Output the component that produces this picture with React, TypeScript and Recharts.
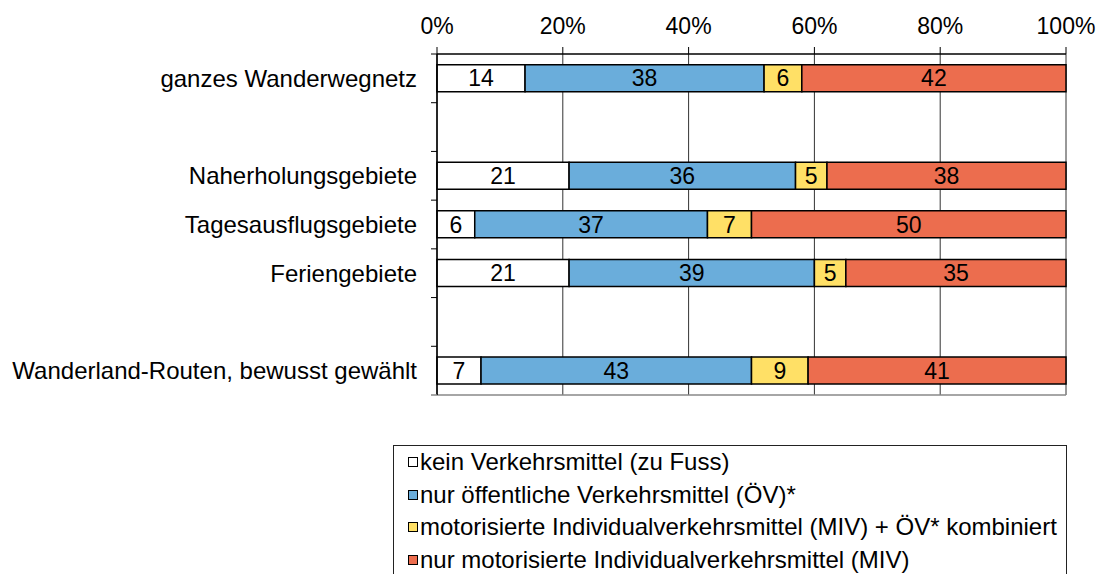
import React from 'react';
import {
  BarChart,
  Bar,
  XAxis,
  YAxis,
  CartesianGrid,
  LabelList,
  Legend,
  ReferenceLine,
} from 'recharts';

const CATEGORIES = [
  'ganzes Wanderwegnetz',
  ' ',
  'Naherholungsgebiete',
  'Tagesausflugsgebiete',
  'Feriengebiete',
  '  ',
  'Wanderland-Routen, bewusst gewählt',
];

const FUSS = [14, null, 21, 6, 21, null, 7];
const OEV = [38, null, 36, 37, 39, null, 43];
const KOMBI = [6, null, 5, 7, 5, null, 9];
const MIV = [42, null, 38, 50, 35, null, 41];

const X_TICKS = [0, 20, 40, 60, 80, 100];

const SERIES = [
  { key: 'fuss', name: 'kein Verkehrsmittel (zu Fuss)', color: '#ffffff', values: FUSS },
  { key: 'oev', name: 'nur öffentliche Verkehrsmittel (ÖV)*', color: '#6aaddb', values: OEV },
  { key: 'kombi', name: 'motorisierte Individualverkehrsmittel (MIV) + ÖV* kombiniert', color: '#ffe066', values: KOMBI },
  { key: 'miv', name: 'nur motorisierte Individualverkehrsmittel (MIV)', color: '#ec6d4e', values: MIV },
];

const data = CATEGORIES.map((cat, i) => {
  const row: Record<string, any> = { cat };
  SERIES.forEach((s) => {
    row[s.key] = s.values[i];
  });
  return row;
});

const FONT = '"Liberation Sans", Arial, sans-serif';
const W = 1098;
const H = 574;
const MARGIN = { top: 0, right: 32, bottom: 179, left: 0 };
const X_AXIS_H = 54;
const CAT_TICK_MARGIN = 20;
const HALF_BAND_FALLBACK = (H - MARGIN.top - MARGIN.bottom - X_AXIS_H) / CATEGORIES.length / 2;

const CategoryTick = (props: any) => {
  const { x, y, payload, index, visibleTicksCount } = props;
  const half = typeof payload?.offset === 'number' && payload.offset > 0 ? payload.offset : HALF_BAND_FALLBACK;
  const axisX = x + CAT_TICK_MARGIN;
  const isLast = index === visibleTicksCount - 1;
  return (
    <g>
      <text x={x} y={y} dy="0.355em" textAnchor="end" fontSize={24} fill="#000" fontFamily={FONT}>
        {payload.value}
      </text>
      <line x1={axisX - 6} x2={axisX} y1={y - half} y2={y - half} stroke="#000" strokeWidth={1} />
      {isLast && (
        <line x1={axisX - 6} x2={axisX} y1={y + half} y2={y + half} stroke="#888" strokeWidth={1.5} />
      )}
    </g>
  );
};

const renderLegend = () => (
  <div
    style={{
      border: '1px solid #222',
      width: 674,
      height: 160,
      boxSizing: 'border-box',
      paddingLeft: 14,
      paddingTop: 0,
      fontFamily: FONT,
      fontSize: 24,
      color: '#000',
      background: '#fff',
      textAlign: 'left',
    }}
  >
    {SERIES.map((s) => (
      <div
        key={s.key}
        style={{ display: 'flex', alignItems: 'center', height: 32.5, whiteSpace: 'nowrap' }}
      >
        <span
          style={{
            display: 'inline-block',
            width: 10,
            height: 10,
            border: '1px solid #000',
            background: s.color,
            marginRight: 2,
            boxSizing: 'border-box',
            flex: 'none',
          }}
        />
        <span>{s.name}</span>
      </div>
    ))}
  </div>
);

export default function App() {
  return (
    <div
      style={{
        position: 'absolute',
        left: 0,
        top: 0,
        width: W,
        height: H,
        overflow: 'hidden',
        background: '#fff',
      }}
    >
      <BarChart
        width={W}
        height={H}
        data={data}
        layout="vertical"
        margin={MARGIN}
        barCategoryGap="22%"
      >
        <CartesianGrid horizontal={false} vertical={true} stroke="#333" strokeWidth={1} />
        <XAxis
          type="number"
          orientation="top"
          domain={[0, 100]}
          ticks={X_TICKS}
          tickFormatter={(v: number) => `${v}%`}
          height={X_AXIS_H}
          tickSize={7}
          tickMargin={13}
          interval={0}
          axisLine={{ stroke: '#000', strokeWidth: 1.5 }}
          tickLine={{ stroke: '#000' }}
          tick={{ fill: '#000', fontSize: 23, fontFamily: FONT }}
        />
        <YAxis
          type="category"
          dataKey="cat"
          width={437}
          interval={0}
          tickSize={0}
          tickMargin={CAT_TICK_MARGIN}
          tickLine={false}
          axisLine={{ stroke: '#000', strokeWidth: 1.5 }}
          tick={<CategoryTick />}
        />
        <ReferenceLine y={CATEGORIES[CATEGORIES.length - 1]} position="end" stroke="#888" strokeWidth={1.5} />
        {SERIES.map((s) => (
          <Bar
            key={s.key}
            dataKey={s.key}
            name={s.name}
            stackId="a"
            fill={s.color}
            stroke="#000"
            strokeWidth={1.5}
            isAnimationActive={false}
          >
            <LabelList
              dataKey={s.key}
              position="center"
              fill="#000"
              fontSize={23}
              fontFamily={FONT}
            />
          </Bar>
        ))}
        <Legend
          layout="vertical"
          align="center"
          verticalAlign="middle"
          content={renderLegend}
          wrapperStyle={{ position: 'absolute', left: 393, top: 445, width: 674, height: 160 }}
        />
      </BarChart>
    </div>
  );
}
